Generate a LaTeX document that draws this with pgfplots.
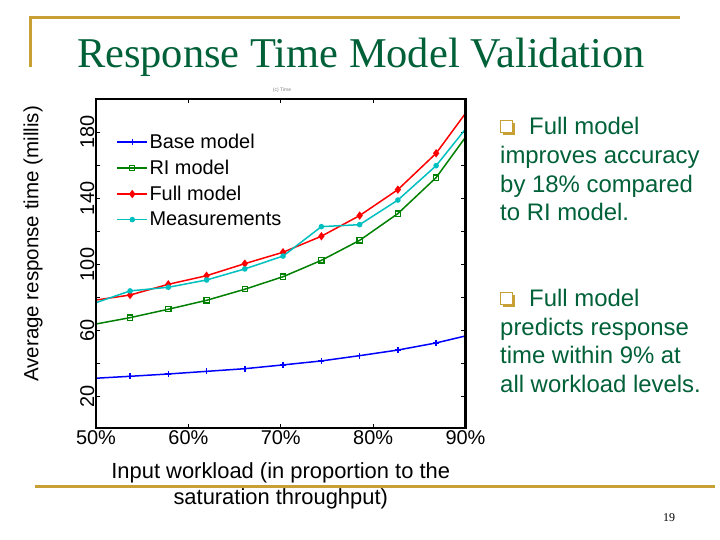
\documentclass[border=0pt]{standalone}
\usepackage{fontspec}
\setmainfont{Liberation Sans}
\newfontfamily\timesfont{Liberation Serif}
\usepackage{pgfplots}
\pgfplotsset{compat=1.18}
\definecolor{gold}{RGB}{198,160,52}
\definecolor{slidegreen}{RGB}{0,96,56}
\definecolor{mblue}{rgb}{0,0,1}
\definecolor{mgreen}{rgb}{0,0.5,0}
\definecolor{mred}{rgb}{1,0,0}
\definecolor{mcyan}{rgb}{0,0.75,0.75}
\newcommand{\slidebullet}[2]{%
  \fill[gold] (#1bp+2.5bp,#2bp) rectangle (#1bp+15bp,#2bp+12bp);
  \filldraw[fill=white, draw=gold, line width=1bp] (#1bp+0.5bp,#2bp+2.5bp) rectangle (#1bp+12.5bp,#2bp+14.5bp);}
\begin{document}
\begin{tikzpicture}
\useasboundingbox (0,0) rectangle (720bp,540bp);
% slide decoration
\draw[gold, line width=3bp] (30bp,522bp) -- (680bp,522bp);
\draw[gold, line width=3bp] (30bp,523.5bp) -- (30bp,473bp);
\draw[gold, line width=3bp] (35bp,53.5bp) -- (715bp,53.5bp);
\node[anchor=base, font=\timesfont\fontsize{42.6}{42.6}\selectfont, text=slidegreen, inner sep=0] at (361bp,472bp) {Response Time Model Validation};
\node[font=\fontsize{5}{5}\selectfont, text=gray] at (282bp,450bp) {(c) Time};
\node[anchor=base, font=\timesfont\fontsize{12}{12}\selectfont, inner sep=0] at (669bp,19bp) {19};
% right-hand text
\slidebullet{500}{405}
\begin{scope}[every node/.style={anchor=base west, inner sep=0, text=slidegreen, font=\fontsize{24}{24}\selectfont}]
\node at (529bp,405bp) {Full model};
\node at (500bp,376.3bp) {improves accuracy};
\node at (500bp,347.6bp) {by 18\% compared};
\node at (500bp,319bp) {to RI model.};
\node at (529bp,233.3bp) {Full model};
\node at (500bp,204.7bp) {predicts response};
\node at (500bp,176bp) {time within 9\% at};
\node at (500bp,147.3bp) {all workload levels.};
\end{scope}
\slidebullet{500}{233}
\begin{axis}[
  at={(96bp,112bp)}, anchor=south west,
  width=369.5bp, height=328.7bp, scale only axis,
  xmin=50, xmax=90, ymin=1, ymax=200,
  xtick={50,60,70,80,90}, xticklabels={50\%,60\%,70\%,80\%,90\%},
  ytick={20,40,...,180}, yticklabels={20,,60,,100,,140,,180},
  tick align=inside, major tick length=4bp,
  every tick/.style={black, line width=1bp},
  tick label style={font=\fontsize{20}{20}\selectfont},
  yticklabel style={rotate=90, anchor=south, inner sep=1.5bp},
  xticklabel style={inner sep=2bp},
  /pgf/number format/assume math mode=true,
  xlabel={Input workload (in proportion to the\\saturation throughput)},
  xlabel style={align=center, font=\fontsize{22}{26}\selectfont, yshift=-13bp},
  ylabel={Average response time (millis)},
  ylabel style={at={(axis description cs:-0.1705,0.56)}, anchor=center, font=\fontsize{20.6}{20.6}\selectfont},
  legend style={draw=none, fill=none, at={(axis description cs:0.055,0.899)}, anchor=north west,
    font=\fontsize{20}{20}\selectfont, row sep=7bp, inner sep=0pt, nodes={inner sep=1.5bp}},
  legend cell align=left,
  legend image code/.code={\draw[mark repeat=2,mark phase=2] plot coordinates {(0bp,0bp)(15bp,0bp)(30bp,0bp)};},
]
\addplot[mblue, line width=1.5bp, mark=+, mark size=3bp] coordinates {
(49.55,31.0)(53.69,32.3)(57.83,33.7)(61.97,35.3)(66.11,36.9)(70.25,39.2)(74.40,41.6)(78.54,44.8)(82.68,48.2)(86.82,52.5)(90.96,58.0)};
\addlegendentry{Base model}
\addplot[mgreen, line width=1.5bp, mark=square, mark size=2.6bp, mark options={line width=1.2bp}] coordinates {
(49.55,63.5)(53.69,67.8)(57.83,72.9)(61.97,78.3)(66.11,85.0)(70.25,92.6)(74.40,102.5)(78.54,114.6)(82.68,130.8)(86.82,152.6)(90.96,184.4)};
\addlegendentry{RI model}
\addplot[mred, line width=1.5bp, mark=diamond*, mark size=3bp] coordinates {
(49.55,78.1)(53.69,81.5)(57.83,88.0)(61.97,93.2)(66.11,100.5)(70.25,107.4)(74.40,117.1)(78.54,129.6)(82.68,145.3)(86.82,167.3)(90.96,198.8)};
\addlegendentry{Full model}
\addplot[mcyan, line width=1.5bp, mark=*, mark size=2bp] coordinates {
(49.55,76.0)(53.69,84.0)(57.83,86.2)(61.97,90.6)(66.11,97.3)(70.25,105.1)(74.40,122.9)(78.54,124.1)(82.68,139.0)(86.82,159.8)(90.96,188.7)};
\addlegendentry{Measurements}
\end{axis}
\draw[black, line width=2.4bp] (96bp,112bp) rectangle (465.5bp,440.7bp);
\end{tikzpicture}
\end{document}
